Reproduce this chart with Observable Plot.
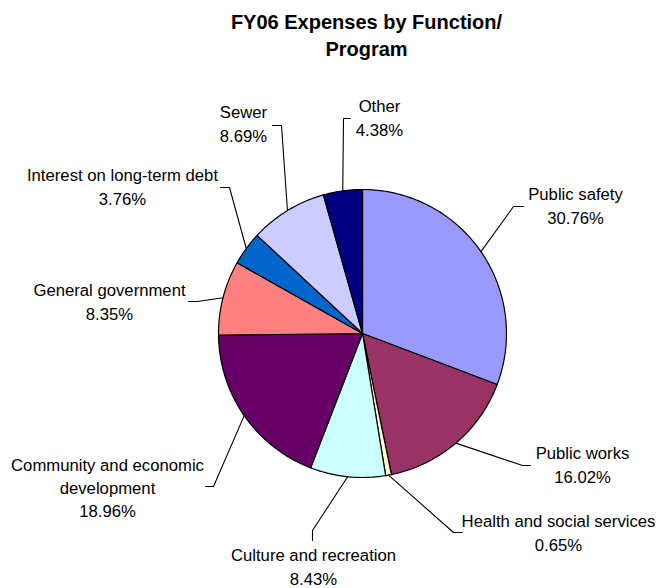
<!DOCTYPE html>
<html>
<head>
<meta charset="utf-8">
<script src="https://cdn.jsdelivr.net/npm/d3@7"></script>
<script src="https://cdn.jsdelivr.net/npm/@observablehq/plot@0.6"></script>
<style>
  html, body { margin: 0; padding: 0; background: #fff; }
</style>
</head>
<body>
<div id="chart"></div>
<script>
// ---- data ----
const categories = [
  "Public safety", "Public works", "Health and social services",
  "Culture and recreation", "Community and economic development",
  "General government", "Interest on long-term debt", "Sewer", "Other"
];
const labelLines = [
  "Public safety", "Public works", "Health and social services",
  "Culture and recreation", "Community and economic\ndevelopment",
  "General government", "Interest on long-term debt", "Sewer", "Other"
];
const shares = [30.76, 16.02, 0.65, 8.43, 18.96, 8.35, 3.76, 8.69, 4.38];
const titleText = "FY06 Expenses by Function/\nProgram";

// ---- style / layout ----
const colors = ["#9999FF", "#993366", "#FFFFCC", "#CCFFFF", "#660066",
                "#FF8080", "#0066CC", "#CCCCFF", "#000080"];
const W = 656, H = 588;
const center = [362, 333], radius = 144;
// label block centres, leader elbows, and tick vectors (relative to pie centre)
const labelOffsets = [[213,-129],[220,130],[196,198],[-49,232],[-255,153],[-253,-33],[-240,-148],[-119,-211],[17,-217]];
const elbowOffsets = [[151,-127],[160,132],[91,199],[-50,197],[-149,153],[-165,-32],[-133,-146],[-81,-208],[-19,-215]];
const tickVectors  = [[10,0],[8,0],[9,0],[0,10],[-8,0],[-9,0],[-9,0],[-9,0],[7,0]];

const rows = categories.map((name, i) => ({name, share: shares[i], i}));
const arcs = d3.pie().sort(null).value(d => d.share)(rows);
const [cx, cy] = center;
const pt = (a, r) => [cx + r * Math.sin(a), cy - r * Math.cos(a)];

const slicePts = arcs.flatMap(p => {
  const n = Math.max(2, Math.ceil((p.endAngle - p.startAngle) * 180 / Math.PI));
  const pts = [{name: p.data.name, x: cx, y: cy}];
  for (let k = 0; k <= n; k++) {
    const a = p.startAngle + (p.endAngle - p.startAngle) * k / n;
    const [x, y] = pt(a, radius);
    pts.push({name: p.data.name, x, y});
  }
  pts.push({name: p.data.name, x: cx, y: cy});
  return pts;
});

const leaderPts = arcs.flatMap((p, i) => {
  const mid = (p.startAngle + p.endAngle) / 2;
  const [ex, ey] = pt(mid, radius);
  const bx = cx + elbowOffsets[i][0], by = cy + elbowOffsets[i][1];
  return [
    {name: p.data.name, x: ex, y: ey},
    {name: p.data.name, x: bx, y: by},
    {name: p.data.name, x: bx + tickVectors[i][0], y: by + tickVectors[i][1]}
  ];
});

const labels = arcs.map((p, i) => ({
  text: labelLines[i] + "\n" + shares[i].toFixed(2) + "%",
  x: cx + labelOffsets[i][0],
  y: cy + labelOffsets[i][1]
}));

const chart = Plot.plot({
  width: W, height: H,
  margin: 0,
  x: {domain: [0, W], range: [0, W], axis: null},
  y: {domain: [0, H], range: [0, H], axis: null},
  color: {domain: categories, range: colors},
  style: {fontFamily: "'Liberation Sans', Arial, sans-serif", background: "#fff", overflow: "hidden"},
  marks: [
    Plot.line(slicePts, {x: "x", y: "y", z: "name", fill: "name", stroke: "#000", strokeWidth: 1.2, strokeLinejoin: "round"}),
    Plot.line(leaderPts, {x: "x", y: "y", z: "name", stroke: "#000", strokeWidth: 1.1}),
    Plot.text(labels, {x: "x", y: "y", text: "text", fontSize: 16.7, lineHeight: 1.39, lineAnchor: "middle", textAnchor: "middle", fill: "#000"}),
    Plot.text([titleText], {frameAnchor: "top", dx: 38, dy: 9, lineAnchor: "top", textAnchor: "middle", fontSize: 20, fontWeight: "bold", lineHeight: 1.35, fill: "#000"})
  ]
});
document.getElementById("chart").appendChild(chart);
</script>
</body>
</html>
